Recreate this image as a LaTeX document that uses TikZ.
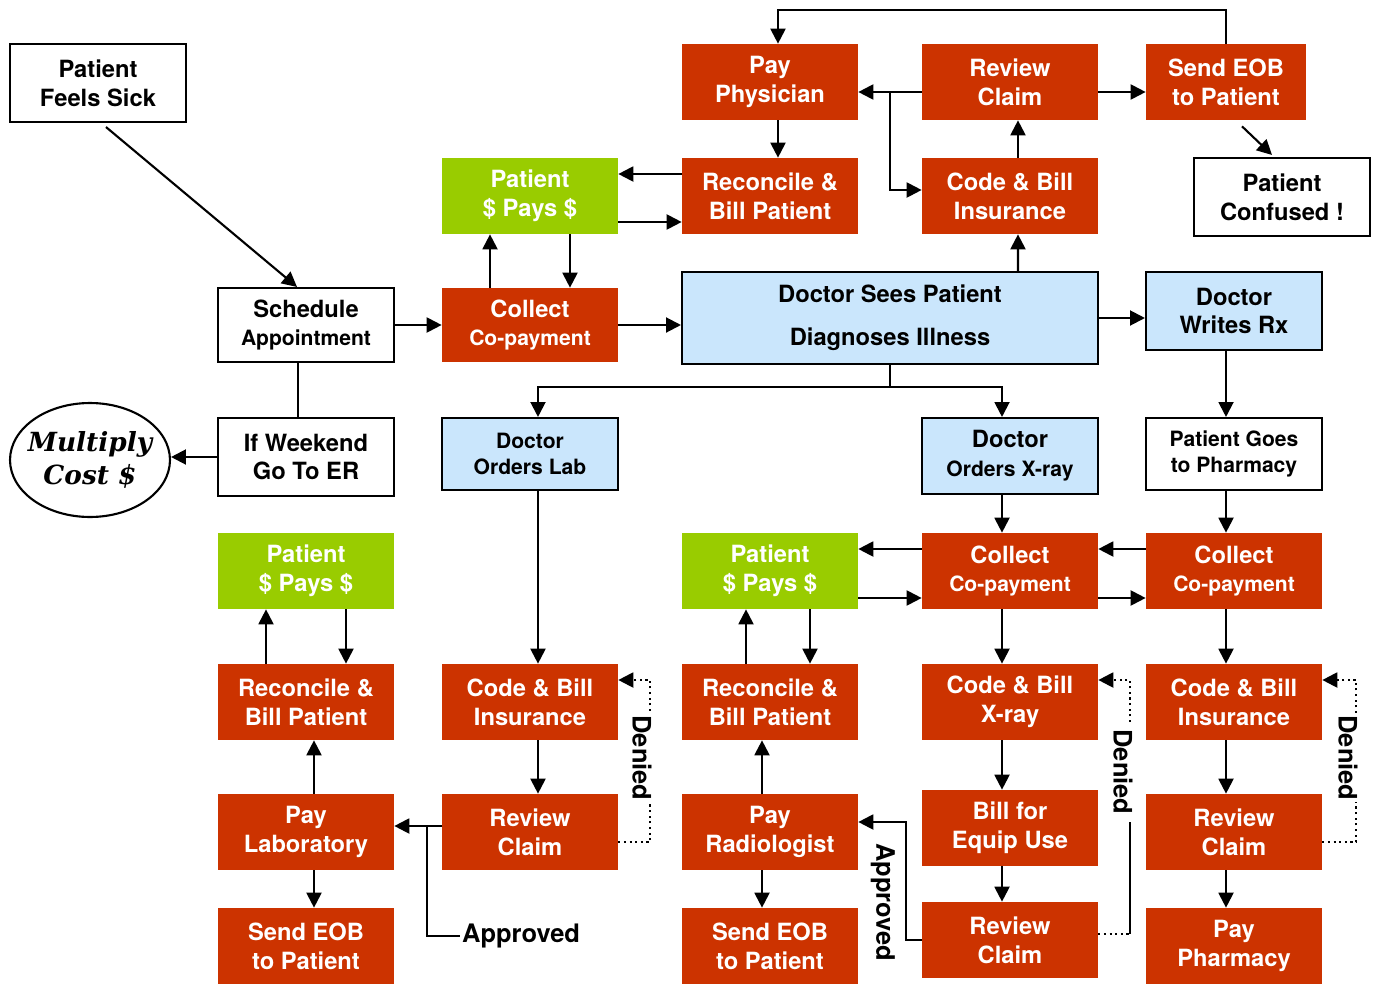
\documentclass[tikz,border=0pt]{standalone}
\usepackage{fontspec}
\setmainfont{TeX Gyre Heros}
\newfontfamily\costfont{DejaVu Serif}
\usetikzlibrary{shapes,arrows.meta,positioning,calc}
\definecolor{claimred}{RGB}{204,51,0}
\definecolor{paygreen}{RGB}{153,204,0}
\definecolor{docblue}{RGB}{202,230,252}
\newcommand\lesser{\fontsize{12}{14.5}\selectfont}

\begin{document}
\begin{tikzpicture}[x=0.02cm, y=-0.02cm,
    box/.style={rectangle, minimum width=3.52cm, minimum height=1.52cm, inner sep=1pt, align=center, font=\bfseries\fontsize{13.5}{16.4}\selectfont},
    bill/.style={box, fill=claimred, text=white},
    pays/.style={box, fill=paygreen, text=white},
    doctor/.style={box, draw, line width=1.2pt, fill=docblue},
    patient/.style={box, draw, line width=1.2pt},
    flow/.style={-{Triangle[length=8.5pt,width=8.5pt]}, line width=1.2pt},
    note/.style={font=\bfseries\fontsize{14.5}{17}\selectfont, inner sep=1pt}]

    \useasboundingbox (0,0) rectangle (1374,984);

    \node[patient, minimum height=1.56cm] (sick) at (98,83) {Patient\\Feels Sick};
    \node[bill] (payphys) at (770,82) {Pay\\Physician};
    \node[bill] (review1) at (1010,82) {Review\\Claim};
    \node[bill, minimum width=3.2cm] (eob1) at (1226,82) {Send EOB\\to Patient};
    \node[patient, minimum height=1.56cm] (confused) at (1282,197) {Patient\\Confused !};

    \node[pays] (pays1) at (530,196) {Patient\\\$ Pays \$};
    \node[bill] (recon1) at (770,196) {Reconcile \&\\Bill Patient};
    \node[bill] (codebill1) at (1010,196) {Code \& Bill\\Insurance};

    \node[patient, minimum height=1.48cm] (schedule) at (306,325) {Schedule\\{\lesser Appointment}};
    \node[bill, minimum height=1.48cm] (copay1) at (530,325) {Collect\\{\lesser Co-payment}};
    \node[doctor, minimum width=8.32cm, minimum height=1.84cm] (sees) at (890,318) {Doctor Sees Patient\\[8pt]Diagnoses Illness};
    \node[doctor, minimum height=1.56cm] (writes) at (1234,311) {Doctor\\Writes Rx};

    \node[patient, minimum height=1.56cm] (weekend) at (306,457) {If Weekend\\Go To ER};
    \node[ellipse, draw, line width=1.2pt, minimum width=3.2cm, minimum height=2.28cm, inner xsep=-8pt, inner ysep=0pt, align=center,
          font=\costfont\bfseries\itshape\fontsize{15}{18.7}\selectfont] (cost) at (90,460) {Multiply\\Cost \$};
    \node[doctor, minimum height=1.44cm, font=\bfseries\lesser] (lab) at (530,454) {Doctor\\Orders Lab};
    \node[doctor] (xray) at (1010,456) {Doctor\\{\lesser Orders X-ray}};
    \node[patient, minimum height=1.44cm, font=\bfseries\lesser] (pharmacy) at (1234,454) {Patient Goes\\to Pharmacy};

    \node[pays] (pays2) at (306,571) {Patient\\\$ Pays \$};
    \node[pays] (pays3) at (770,571) {Patient\\\$ Pays \$};
    \node[bill] (copay2) at (1010,571) {Collect\\{\lesser Co-payment}};
    \node[bill] (copay3) at (1234,571) {Collect\\{\lesser Co-payment}};

    \node[bill] (recon2) at (306,702) {Reconcile \&\\Bill Patient};
    \node[bill] (codebill2) at (530,702) {Code \& Bill\\Insurance};
    \node[bill] (recon3) at (770,702) {Reconcile \&\\Bill Patient};
    \node[bill] (codexray) at (1010,702) {Code \& Bill\\X-ray};
    \node[bill] (codebill3) at (1234,702) {Code \& Bill\\Insurance};

    \node[bill] (paylab) at (306,832) {Pay\\Laboratory};
    \node[bill] (review2) at (530,832) {Review\\Claim};
    \node[bill] (payrad) at (770,832) {Pay\\Radiologist};
    \node[bill] (equip) at (1010,828) {Bill for\\Equip Use};
    \node[bill] (review4) at (1234,832) {Review\\Claim};

    \node[bill] (eob2) at (306,946) {Send EOB\\to Patient};
    \node[bill] (eob3) at (770,946) {Send EOB\\to Patient};
    \node[bill] (review3) at (1010,940) {Review\\Claim};
    \node[bill] (paypharm) at (1234,946) {Pay\\Pharmacy};

    \node[note, anchor=west] (approved1) at (460,936) {Approved};
    \node[note, rotate=-90] (approved2) at (883,902) {Approved};

    \draw[flow] ([shift={(0.16cm,-0.08cm)}]sick.south) -- ([xshift=-0.18cm]schedule.north);
    \draw[flow] (schedule.east) -- (schedule.east -| copay1.west);
    \draw[flow] (copay1.east) -- (copay1.east -| sees.west);
    \draw[flow] ([xshift=-0.8cm]copay1.north) -- ([xshift=-0.8cm]pays1.south);
    \draw[flow] ([xshift=0.8cm]pays1.south) -- ([xshift=0.8cm]copay1.north);
    \draw[flow] ([yshift=0.44cm]recon1.west) -- ([yshift=0.44cm]pays1.east);
    \draw[flow] ([yshift=-0.52cm]pays1.east) -- ([yshift=-0.52cm]recon1.west);
    \draw[flow] ([xshift=0.16cm]payphys.south) -- ([xshift=0.16cm]recon1.north);
    \draw[flow] ([yshift=-0.2cm]review1.west) -- ([yshift=-0.2cm]payphys.east);
    \draw[flow] ([yshift=-0.2cm]review1.west) ++(-32,0) |- ([yshift=0.12cm]codebill1.west);
    \draw[flow] ([xshift=0.16cm]codebill1.north) -- ([xshift=0.16cm]review1.south);
    \draw[flow] ([xshift=2.56cm]sees.north) -- ([xshift=0.16cm]codebill1.south);
    \draw[flow] ([yshift=-0.2cm]review1.east) -- ([yshift=-0.2cm]eob1.west);
    \draw[flow] (eob1.north) -- ++(0,-34) -| ([xshift=0.16cm]payphys.north);
    \draw[flow] ([shift={(0.32cm,-0.12cm)}]eob1.south) -- ([shift={(-0.2cm,0.04cm)}]confused.north);
    \draw[flow] (sees.east) -- (sees.east -| writes.west);
    \draw[flow] ([xshift=-0.16cm]writes.south) -- ([xshift=-0.16cm]pharmacy.north);
    \draw[flow] (sees.south) -- ++(0,22) -| ([xshift=0.16cm]lab.north);
    \draw[flow] (sees.south) -- ++(0,22) -| ([xshift=-0.16cm]xray.north);
    \draw[line width=1.2pt] ([xshift=-0.16cm]schedule.south) -- ([xshift=-0.16cm]weekend.north);
    \draw[flow] (weekend.west) -- (weekend.west -| cost.east);

    \draw[flow] ([xshift=0.16cm]lab.south) -- ([xshift=0.16cm]codebill2.north);
    \draw[flow] ([xshift=0.16cm]codebill2.south) -- ([xshift=0.16cm]review2.north);
    \draw[flow] ([yshift=0.12cm]review2.west) -- ([yshift=0.12cm]paylab.east);
    \draw[line width=1.2pt] ([yshift=0.12cm]review2.west) ++(-15,0) |- (approved1.west);
    \draw[flow, dotted] ([yshift=-0.2cm]review2.east) -- ++(32,0) |- ([yshift=0.44cm]codebill2.east);
    \draw[flow] ([xshift=0.16cm]paylab.north) -- ([xshift=0.16cm]recon2.south);
    \draw[flow] ([xshift=0.16cm]paylab.south) -- ([xshift=0.16cm]eob2.north);
    \draw[flow] ([xshift=-0.8cm]recon2.north) -- ([xshift=-0.8cm]pays2.south);
    \draw[flow] ([xshift=0.8cm]pays2.south) -- ([xshift=0.8cm]recon2.north);

    \draw[flow] ([xshift=-0.16cm]xray.south) -- ([xshift=-0.16cm]copay2.north);
    \draw[flow] ([xshift=-0.16cm]pharmacy.south) -- ([xshift=-0.16cm]copay3.north);
    \draw[flow] ([yshift=0.44cm]copay3.west) -- ([yshift=0.44cm]copay2.east);
    \draw[flow] ([yshift=-0.54cm]copay2.east) -- ([yshift=-0.54cm]copay3.west);
    \draw[flow] ([yshift=0.44cm]copay2.west) -- ([yshift=0.44cm]pays3.east);
    \draw[flow] ([yshift=-0.54cm]pays3.east) -- ([yshift=-0.54cm]copay2.west);
    \draw[flow] ([xshift=-0.48cm]recon3.north) -- ([xshift=-0.48cm]pays3.south);
    \draw[flow] ([xshift=0.8cm]pays3.south) -- ([xshift=0.8cm]recon3.north);
    \draw[flow] ([xshift=-0.16cm]copay2.south) -- ([xshift=-0.16cm]codexray.north);
    \draw[flow] ([xshift=-0.16cm]copay3.south) -- ([xshift=-0.16cm]codebill3.north);
    \draw[flow] ([xshift=-0.16cm]codexray.south) -- ([xshift=-0.16cm]equip.north);
    \draw[flow] ([xshift=-0.16cm]equip.south) -- ([xshift=-0.16cm]review3.north);
    \draw[flow] (review3.west) -- ++(-16,0) |- ([yshift=0.2cm]payrad.east);
    \draw[line width=1.2pt, dotted] ([yshift=0.12cm]review3.east) -- ++(32,0) coordinate (xraydeny);
    \draw[line width=1.2pt] (xraydeny) -- ++(0,-112);
    \draw[flow, dotted] (xraydeny) ++(0,-212) |- ([yshift=0.44cm]codexray.east);
    \draw[flow] ([xshift=-0.16cm]payrad.north) -- ([xshift=-0.16cm]recon3.south);
    \draw[flow] ([xshift=-0.16cm]payrad.south) -- ([xshift=-0.16cm]eob3.north);
    \draw[flow] ([xshift=-0.16cm]codebill3.south) -- ([xshift=-0.16cm]review4.north);
    \draw[flow] ([xshift=-0.16cm]review4.south) -- ([xshift=-0.16cm]paypharm.north);
    \draw[flow, dotted] ([yshift=-0.2cm]review4.east) -- ++(34,0) |- ([yshift=0.44cm]codebill3.east);

    \node[note, rotate=-90, fill=white] (denied1) at (642,758) {Denied};
    \node[note, rotate=-90, fill=white] (denied2) at (1123,772) {Denied};
    \node[note, rotate=-90, fill=white] (denied3) at (1348,758) {Denied};
\end{tikzpicture}
\end{document}
